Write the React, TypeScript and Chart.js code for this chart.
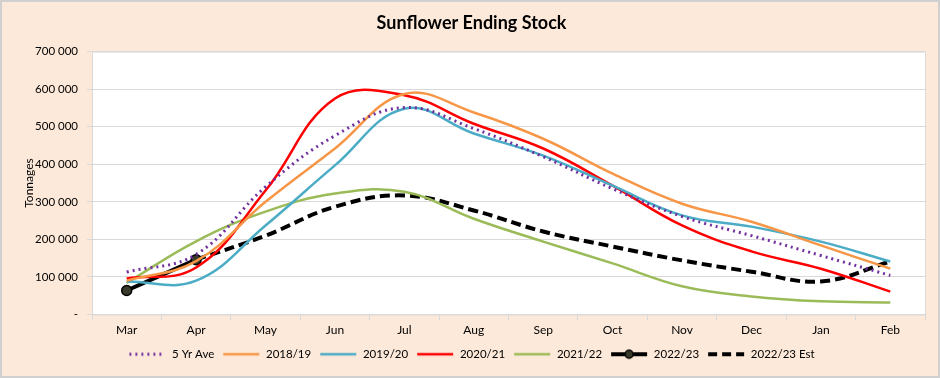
import React, { useEffect, useRef } from "react";
import { Chart, registerables } from "chart.js";

Chart.register(...registerables);

const months = ["Mar", "Apr", "May", "Jun", "Jul", "Aug", "Sep", "Oct", "Nov", "Dec", "Jan", "Feb"];
const avg5 = [113000, 160000, 340000, 476000, 551000, 495000, 420000, 335000, 261000, 210000, 157000, 104000];
const s1819 = [90000, 142000, 300000, 442000, 587000, 538000, 468000, 375000, 295000, 247000, 184000, 122000];
const s1920 = [88000, 90000, 237000, 397000, 548000, 482000, 423000, 343000, 264000, 234000, 194000, 141000];
const s2021 = [96000, 125000, 330000, 575000, 584000, 508000, 442000, 343000, 237000, 168000, 122000, 61000];
const s2122 = [84000, 195000, 274000, 322000, 327000, 255000, 194000, 136000, 75000, 48000, 35000, 32000];
const s2223 = [64000, 146000, null, null, null, null, null, null, null, null, null, null];
const s2223Est = [null, 146000, 210000, 287000, 317000, 277000, 221000, 181000, 144000, 114000, 88000, 141000];
const yTicks = [0, 100000, 200000, 300000, 400000, 500000, 600000, 700000];

const FONT = "Lato, 'Open Sans', sans-serif";

function legendImg(color: string, width: number, dash: number[], cap: CanvasLineCap, marker: boolean) {
  const c = document.createElement("canvas");
  c.width = 38;
  c.height = 12;
  const ctx = c.getContext("2d")!;
  ctx.strokeStyle = color;
  ctx.lineWidth = width;
  ctx.lineCap = cap;
  ctx.setLineDash(dash);
  ctx.beginPath();
  ctx.moveTo(1, 6);
  ctx.lineTo(37, 6);
  ctx.stroke();
  if (marker) {
    ctx.setLineDash([]);
    ctx.beginPath();
    ctx.arc(19, 6, 4, 0, Math.PI * 2);
    ctx.fillStyle = "#3a3a2a";
    ctx.fill();
    ctx.lineWidth = 1.5;
    ctx.strokeStyle = "#000";
    ctx.stroke();
  }
  return c;
}

const bgPlugin = {
  id: "bgPlugin",
  beforeDraw(chart: any) {
    const { ctx, width, height, chartArea } = chart;
    ctx.save();
    ctx.fillStyle = "#FDE9D9";
    ctx.fillRect(0, 0, width, height);
    ctx.strokeStyle = "#D0D0D0";
    ctx.lineWidth = 2;
    ctx.strokeRect(1, 1, width - 2, height - 2);
    ctx.fillStyle = "#FFFFFF";
    ctx.fillRect(chartArea.left, chartArea.top, chartArea.right - chartArea.left, chartArea.bottom - chartArea.top);
    ctx.strokeStyle = "#D9D9D9";
    ctx.lineWidth = 1;
    ctx.strokeRect(chartArea.left + 0.5, chartArea.top + 0.5, chartArea.right - chartArea.left, chartArea.bottom - chartArea.top);
    ctx.restore();
  },
};

export default function App() {
  const ref = useRef<HTMLCanvasElement>(null);
  useEffect(() => {
    document.body.style.margin = "0";
    const imgs = [
      legendImg("#7030A0", 3, [2, 4], "butt", false),
      legendImg("#F79646", 2.5, [], "butt", false),
      legendImg("#4BACC6", 2.5, [], "butt", false),
      legendImg("#FF0000", 2.5, [], "butt", false),
      legendImg("#9BBB59", 2.5, [], "butt", false),
      legendImg("#000000", 4, [], "butt", true),
      legendImg("#000000", 4, [9, 5], "butt", false),
    ];
    const base = {
      fill: false,
      tension: 0.4,
      pointRadius: 0,
      pointHoverRadius: 0,
      spanGaps: false,
    };
    const chart = new Chart(ref.current!, {
      type: "line",
      data: {
        labels: months,
        datasets: [
          { ...base, label: "5 Yr Ave", data: avg5, borderColor: "#7030A0", borderWidth: 3, borderDash: [2, 4] },
          { ...base, label: "2018/19", data: s1819, borderColor: "#F79646", borderWidth: 2.5 },
          { ...base, label: "2019/20", data: s1920, borderColor: "#4BACC6", borderWidth: 2.5 },
          { ...base, label: "2020/21", data: s2021, borderColor: "#FF0000", borderWidth: 2.5 },
          { ...base, label: "2021/22", data: s2122, borderColor: "#9BBB59", borderWidth: 2.5 },
          {
            ...base,
            label: "2022/23",
            data: s2223,
            borderColor: "#000000",
            borderWidth: 4,
            pointRadius: 5,
            pointBackgroundColor: "#3a3a2a",
            pointBorderColor: "#000000",
            pointBorderWidth: 1.5,
          },
          { ...base, label: "2022/23 Est", data: s2223Est, borderColor: "#000000", borderWidth: 4, borderDash: [10, 5] },
        ] as any,
      },
      options: {
        animation: false,
        responsive: true,
        maintainAspectRatio: false,
        layout: { padding: { left: 18, right: 15, top: 0, bottom: 8 } },
        plugins: {
          title: {
            display: true,
            text: "Sunflower Ending Stock",
            color: "#000",
            font: { family: FONT, size: 18, weight: "bold" },
            padding: { top: 12, bottom: 18 },
          },
          legend: {
            position: "bottom",
            labels: {
              color: "#000",
              font: { family: FONT, size: 11.5 },
              usePointStyle: true,
              pointStyleWidth: 38,
              boxHeight: 12,
              padding: 8,
              generateLabels: (ch: any) => {
                const items = (Chart.defaults.plugins.legend.labels.generateLabels as any)(ch);
                return items.map((it: any, i: number) => ({ ...it, pointStyle: imgs[i], lineDash: [] }));
              },
            },
          },
          tooltip: { enabled: false },
        },
        scales: {
          x: {
            offset: true,
            grid: { display: true, drawOnChartArea: false, drawTicks: true, tickLength: 6, offset: true, color: "#D9D9D9" },
            border: { color: "#D9D9D9" },
            ticks: { color: "#000", font: { family: FONT, size: 12 }, padding: 2, maxRotation: 0 },
            afterFit: (s: any) => { s.height = 26; },
          },
          y: {
            min: 0,
            max: 700000,
            afterBuildTicks: (s: any) => { s.ticks = yTicks.map((v) => ({ value: v })); },
            grid: { color: "#D9D9D9", drawTicks: true, tickLength: 5 },
            border: { color: "#D9D9D9" },
            ticks: {
              color: "#000",
              font: { family: FONT, size: 11.5 },
              padding: 9,
              callback: (v: any) => (v === 0 ? "-" : String(v).replace(/\B(?=(\d{3})+(?!\d))/g, " ")),
            },
            title: { display: true, text: "Tonnages", color: "#000", font: { family: FONT, size: 12 }, padding: 4 },
            afterFit: (s: any) => { s.width = 74; },
          },
        },
      },
      plugins: [bgPlugin],
    });
    return () => chart.destroy();
  }, []);
  return (
    <div style={{ position: "fixed", left: 0, top: 0, width: 940, height: 378 }}>
      <canvas ref={ref} />
    </div>
  );
}
